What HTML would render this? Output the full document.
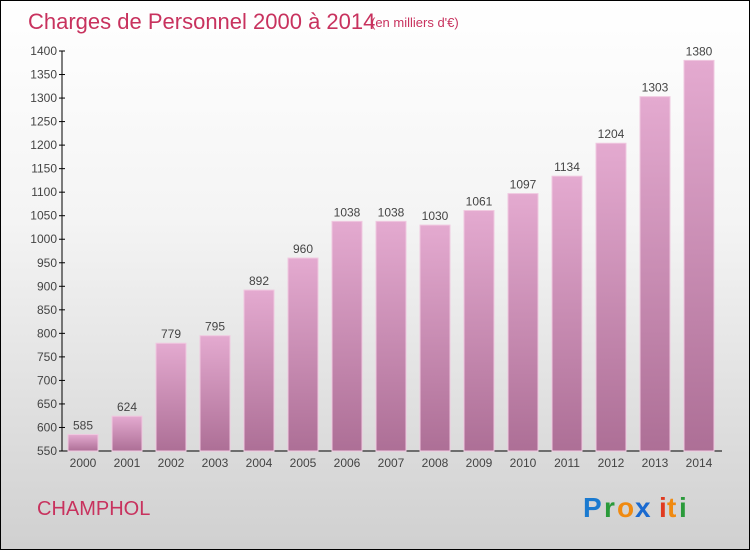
<!DOCTYPE html>
<html><head><meta charset="utf-8"><style>
body{margin:0;}
#c{width:750px;height:550px;position:relative;box-sizing:border-box;border:1px solid #000;background:linear-gradient(#ffffff,#f4f4f4 40%,#d0d0d0);font-family:"Liberation Sans",sans-serif;overflow:hidden}
</style></head><body>
<div id="c">
<svg width="750" height="550" style="position:absolute;left:0;top:0" id="svg">
<defs><linearGradient id="g" x1="0" y1="0" x2="0" y2="1"><stop offset="0" stop-color="#e4aad0"/><stop offset="1" stop-color="#ad6f96"/></linearGradient></defs>
<text x="27" y="28" font-size="22" fill="#c8325e">Charges de Personnel 2000 à 2014</text>
<text x="370" y="26" font-size="13" fill="#c8325e">(en milliers d'€)</text>
<text x="36" y="514" font-size="20" fill="#c8325e">CHAMPHOL</text>
<g font-size="28" font-weight="bold">
<text x="582" y="516" fill="#1a7ad0">P</text><text x="603" y="516" fill="#2a9a3a">r</text><text x="616" y="516" fill="#f08a10">o</text><text x="634" y="516" fill="#1a6ad0">x</text><text x="658" y="516" fill="#e03a20">i</text><text x="666" y="516" fill="#f08a10">t</text><text x="678" y="516" fill="#2a9a3a">i</text>
</g>
<g id="plot"></g>
</svg>
</div>
<script>
const years=["2000","2001","2002","2003","2004","2005","2006","2007","2008","2009","2010","2011","2012","2013","2014"];
const values=[585,624,779,795,892,960,1038,1038,1030,1061,1097,1134,1204,1303,1380];
const yTicks=[550,600,650,700,750,800,850,900,950,1000,1050,1100,1150,1200,1250,1300,1350,1400];
const NS="http://www.w3.org/2000/svg";
const plot=document.getElementById('plot');
const y0=450,y1=50,vmin=550,vmax=1400;
function ys(v){return y0-(v-vmin)/(vmax-vmin)*(y0-y1);}
function xs(i){return 82+i*44;}
function mk(t,a){const e=document.createElementNS(NS,t);for(const k in a)e.setAttribute(k,a[k]);plot.appendChild(e);return e;}
let e=mk('line',{x1:61,y1:50,x2:61,y2:450,stroke:'#000'});


e=mk('line',{x1:61,y1:450,x2:721,y2:450,stroke:'#000'});


yTicks.forEach(v=>{
 const y=ys(v);
 let t=mk('line',{x1:58,y1:y,x2:64,y2:y,stroke:'#000'});
 
 
 let l=mk('text',{x:56,y:y+4,'font-size':12,'text-anchor':'end',fill:'#444'});
 l.textContent=v;
 
 
});
values.forEach((v,i)=>{
 const x=xs(i),y=ys(v);
 let r=mk('rect',{x:x-15,y:y,width:30,height:y0-y,fill:'url(#g)',stroke:'#f0c8e0','stroke-width':1});
 
 
 let l=mk('text',{x:x,y:y-5,'font-size':12,'text-anchor':'middle',fill:'#444'});
 l.textContent=v;
 
 
 let xl=mk('text',{x:x,y:466,'font-size':12,'text-anchor':'middle',fill:'#444'});
 xl.textContent=years[i];
 
 
});
</script>
</body></html>
